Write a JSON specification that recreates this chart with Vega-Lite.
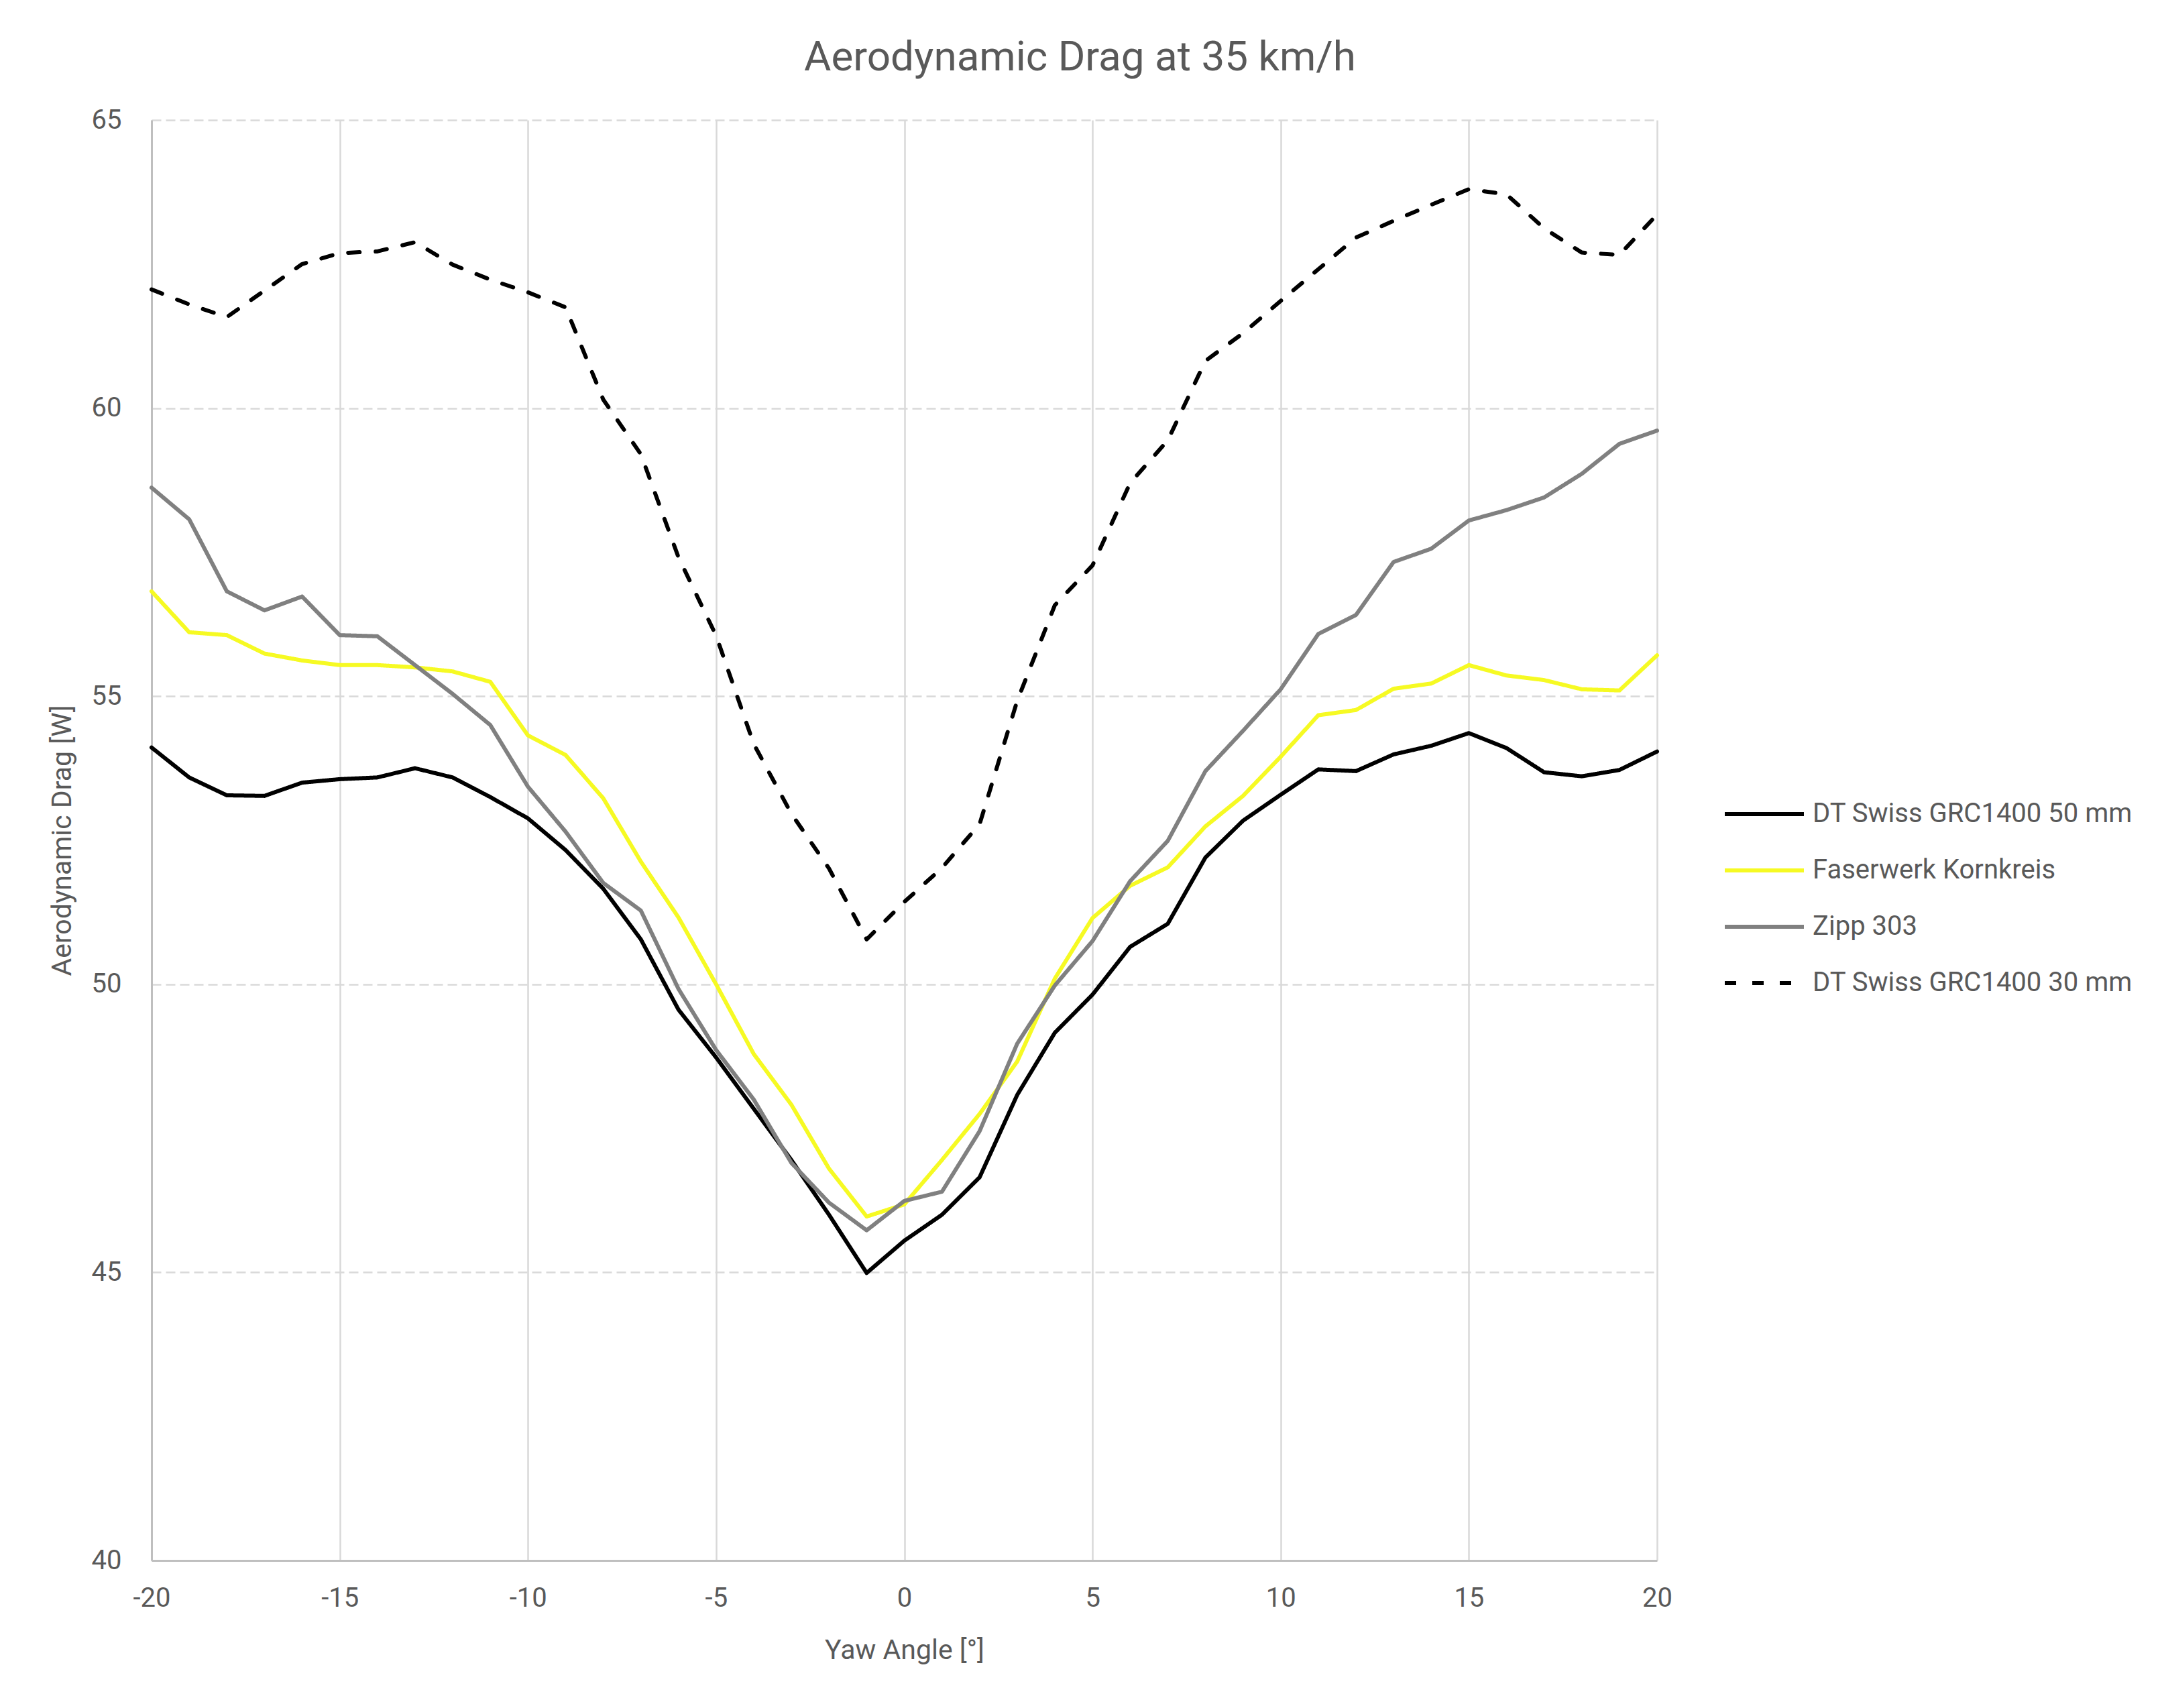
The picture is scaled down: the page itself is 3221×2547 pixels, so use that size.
{
  "$schema": "https://vega.github.io/schema/vega-lite/v6.json",
  "width": 2245,
  "height": 2148,
  "autosize": {"type": "none"},
  "padding": {"left": 226, "top": 179, "right": 750, "bottom": 220},
  "background": "white",
  "title": {
    "text": "Aerodynamic Drag at 35 km/h",
    "font": "Roboto",
    "fontSize": 62,
    "fontWeight": "normal",
    "color": "#595959",
    "anchor": "middle",
    "dx": 262,
    "dy": 84,
    "baseline": "alphabetic",
    "offset": 76
  },
  "data": {
    "values": [
      {"yaw": -20, "wheel": "DT Swiss GRC1400 50 mm", "drag": 54.11},
      {"yaw": -19, "wheel": "DT Swiss GRC1400 50 mm", "drag": 53.59},
      {"yaw": -18, "wheel": "DT Swiss GRC1400 50 mm", "drag": 53.28},
      {"yaw": -17, "wheel": "DT Swiss GRC1400 50 mm", "drag": 53.27},
      {"yaw": -16, "wheel": "DT Swiss GRC1400 50 mm", "drag": 53.5},
      {"yaw": -15, "wheel": "DT Swiss GRC1400 50 mm", "drag": 53.56},
      {"yaw": -14, "wheel": "DT Swiss GRC1400 50 mm", "drag": 53.59},
      {"yaw": -13, "wheel": "DT Swiss GRC1400 50 mm", "drag": 53.75},
      {"yaw": -12, "wheel": "DT Swiss GRC1400 50 mm", "drag": 53.59},
      {"yaw": -11, "wheel": "DT Swiss GRC1400 50 mm", "drag": 53.25},
      {"yaw": -10, "wheel": "DT Swiss GRC1400 50 mm", "drag": 52.88},
      {"yaw": -9, "wheel": "DT Swiss GRC1400 50 mm", "drag": 52.33},
      {"yaw": -8, "wheel": "DT Swiss GRC1400 50 mm", "drag": 51.66},
      {"yaw": -7, "wheel": "DT Swiss GRC1400 50 mm", "drag": 50.78},
      {"yaw": -6, "wheel": "DT Swiss GRC1400 50 mm", "drag": 49.56},
      {"yaw": -5, "wheel": "DT Swiss GRC1400 50 mm", "drag": 48.73},
      {"yaw": -4, "wheel": "DT Swiss GRC1400 50 mm", "drag": 47.84},
      {"yaw": -3, "wheel": "DT Swiss GRC1400 50 mm", "drag": 46.95},
      {"yaw": -2, "wheel": "DT Swiss GRC1400 50 mm", "drag": 46.0},
      {"yaw": -1, "wheel": "DT Swiss GRC1400 50 mm", "drag": 44.99},
      {"yaw": 0, "wheel": "DT Swiss GRC1400 50 mm", "drag": 45.55},
      {"yaw": 1, "wheel": "DT Swiss GRC1400 50 mm", "drag": 46.0},
      {"yaw": 2, "wheel": "DT Swiss GRC1400 50 mm", "drag": 46.65},
      {"yaw": 3, "wheel": "DT Swiss GRC1400 50 mm", "drag": 48.08},
      {"yaw": 4, "wheel": "DT Swiss GRC1400 50 mm", "drag": 49.16},
      {"yaw": 5, "wheel": "DT Swiss GRC1400 50 mm", "drag": 49.82},
      {"yaw": 6, "wheel": "DT Swiss GRC1400 50 mm", "drag": 50.65},
      {"yaw": 7, "wheel": "DT Swiss GRC1400 50 mm", "drag": 51.05},
      {"yaw": 8, "wheel": "DT Swiss GRC1400 50 mm", "drag": 52.2},
      {"yaw": 9, "wheel": "DT Swiss GRC1400 50 mm", "drag": 52.84},
      {"yaw": 10, "wheel": "DT Swiss GRC1400 50 mm", "drag": 53.29},
      {"yaw": 11, "wheel": "DT Swiss GRC1400 50 mm", "drag": 53.73},
      {"yaw": 12, "wheel": "DT Swiss GRC1400 50 mm", "drag": 53.7},
      {"yaw": 13, "wheel": "DT Swiss GRC1400 50 mm", "drag": 53.99},
      {"yaw": 14, "wheel": "DT Swiss GRC1400 50 mm", "drag": 54.14},
      {"yaw": 15, "wheel": "DT Swiss GRC1400 50 mm", "drag": 54.36},
      {"yaw": 16, "wheel": "DT Swiss GRC1400 50 mm", "drag": 54.1},
      {"yaw": 17, "wheel": "DT Swiss GRC1400 50 mm", "drag": 53.68},
      {"yaw": 18, "wheel": "DT Swiss GRC1400 50 mm", "drag": 53.61},
      {"yaw": 19, "wheel": "DT Swiss GRC1400 50 mm", "drag": 53.72},
      {"yaw": 20, "wheel": "DT Swiss GRC1400 50 mm", "drag": 54.04},

      {"yaw": -20, "wheel": "Faserwerk Kornkreis", "drag": 56.82},
      {"yaw": -19, "wheel": "Faserwerk Kornkreis", "drag": 56.11},
      {"yaw": -18, "wheel": "Faserwerk Kornkreis", "drag": 56.06},
      {"yaw": -17, "wheel": "Faserwerk Kornkreis", "drag": 55.74},
      {"yaw": -16, "wheel": "Faserwerk Kornkreis", "drag": 55.62},
      {"yaw": -15, "wheel": "Faserwerk Kornkreis", "drag": 55.54},
      {"yaw": -14, "wheel": "Faserwerk Kornkreis", "drag": 55.54},
      {"yaw": -13, "wheel": "Faserwerk Kornkreis", "drag": 55.5},
      {"yaw": -12, "wheel": "Faserwerk Kornkreis", "drag": 55.43},
      {"yaw": -11, "wheel": "Faserwerk Kornkreis", "drag": 55.25},
      {"yaw": -10, "wheel": "Faserwerk Kornkreis", "drag": 54.32},
      {"yaw": -9, "wheel": "Faserwerk Kornkreis", "drag": 53.98},
      {"yaw": -8, "wheel": "Faserwerk Kornkreis", "drag": 53.23},
      {"yaw": -7, "wheel": "Faserwerk Kornkreis", "drag": 52.13},
      {"yaw": -6, "wheel": "Faserwerk Kornkreis", "drag": 51.16},
      {"yaw": -5, "wheel": "Faserwerk Kornkreis", "drag": 50.0},
      {"yaw": -4, "wheel": "Faserwerk Kornkreis", "drag": 48.79},
      {"yaw": -3, "wheel": "Faserwerk Kornkreis", "drag": 47.91},
      {"yaw": -2, "wheel": "Faserwerk Kornkreis", "drag": 46.8},
      {"yaw": -1, "wheel": "Faserwerk Kornkreis", "drag": 45.97},
      {"yaw": 0, "wheel": "Faserwerk Kornkreis", "drag": 46.18},
      {"yaw": 1, "wheel": "Faserwerk Kornkreis", "drag": 46.95},
      {"yaw": 2, "wheel": "Faserwerk Kornkreis", "drag": 47.75},
      {"yaw": 3, "wheel": "Faserwerk Kornkreis", "drag": 48.66},
      {"yaw": 4, "wheel": "Faserwerk Kornkreis", "drag": 50.1},
      {"yaw": 5, "wheel": "Faserwerk Kornkreis", "drag": 51.15},
      {"yaw": 6, "wheel": "Faserwerk Kornkreis", "drag": 51.71},
      {"yaw": 7, "wheel": "Faserwerk Kornkreis", "drag": 52.03},
      {"yaw": 8, "wheel": "Faserwerk Kornkreis", "drag": 52.74},
      {"yaw": 9, "wheel": "Faserwerk Kornkreis", "drag": 53.27},
      {"yaw": 10, "wheel": "Faserwerk Kornkreis", "drag": 53.95},
      {"yaw": 11, "wheel": "Faserwerk Kornkreis", "drag": 54.67},
      {"yaw": 12, "wheel": "Faserwerk Kornkreis", "drag": 54.76},
      {"yaw": 13, "wheel": "Faserwerk Kornkreis", "drag": 55.13},
      {"yaw": 14, "wheel": "Faserwerk Kornkreis", "drag": 55.22},
      {"yaw": 15, "wheel": "Faserwerk Kornkreis", "drag": 55.54},
      {"yaw": 16, "wheel": "Faserwerk Kornkreis", "drag": 55.36},
      {"yaw": 17, "wheel": "Faserwerk Kornkreis", "drag": 55.28},
      {"yaw": 18, "wheel": "Faserwerk Kornkreis", "drag": 55.12},
      {"yaw": 19, "wheel": "Faserwerk Kornkreis", "drag": 55.1},
      {"yaw": 20, "wheel": "Faserwerk Kornkreis", "drag": 55.71},

      {"yaw": -20, "wheel": "Zipp 303", "drag": 58.62},
      {"yaw": -19, "wheel": "Zipp 303", "drag": 58.07},
      {"yaw": -18, "wheel": "Zipp 303", "drag": 56.82},
      {"yaw": -17, "wheel": "Zipp 303", "drag": 56.49},
      {"yaw": -16, "wheel": "Zipp 303", "drag": 56.73},
      {"yaw": -15, "wheel": "Zipp 303", "drag": 56.06},
      {"yaw": -14, "wheel": "Zipp 303", "drag": 56.04},
      {"yaw": -13, "wheel": "Zipp 303", "drag": 55.54},
      {"yaw": -12, "wheel": "Zipp 303", "drag": 55.04},
      {"yaw": -11, "wheel": "Zipp 303", "drag": 54.5},
      {"yaw": -10, "wheel": "Zipp 303", "drag": 53.43},
      {"yaw": -9, "wheel": "Zipp 303", "drag": 52.65},
      {"yaw": -8, "wheel": "Zipp 303", "drag": 51.76},
      {"yaw": -7, "wheel": "Zipp 303", "drag": 51.28},
      {"yaw": -6, "wheel": "Zipp 303", "drag": 49.92},
      {"yaw": -5, "wheel": "Zipp 303", "drag": 48.86},
      {"yaw": -4, "wheel": "Zipp 303", "drag": 48.0},
      {"yaw": -3, "wheel": "Zipp 303", "drag": 46.9},
      {"yaw": -2, "wheel": "Zipp 303", "drag": 46.21},
      {"yaw": -1, "wheel": "Zipp 303", "drag": 45.73},
      {"yaw": 0, "wheel": "Zipp 303", "drag": 46.24},
      {"yaw": 1, "wheel": "Zipp 303", "drag": 46.4},
      {"yaw": 2, "wheel": "Zipp 303", "drag": 47.45},
      {"yaw": 3, "wheel": "Zipp 303", "drag": 48.97},
      {"yaw": 4, "wheel": "Zipp 303", "drag": 49.98},
      {"yaw": 5, "wheel": "Zipp 303", "drag": 50.75},
      {"yaw": 6, "wheel": "Zipp 303", "drag": 51.79},
      {"yaw": 7, "wheel": "Zipp 303", "drag": 52.49},
      {"yaw": 8, "wheel": "Zipp 303", "drag": 53.7},
      {"yaw": 9, "wheel": "Zipp 303", "drag": 54.4},
      {"yaw": 10, "wheel": "Zipp 303", "drag": 55.12},
      {"yaw": 11, "wheel": "Zipp 303", "drag": 56.08},
      {"yaw": 12, "wheel": "Zipp 303", "drag": 56.41},
      {"yaw": 13, "wheel": "Zipp 303", "drag": 57.33},
      {"yaw": 14, "wheel": "Zipp 303", "drag": 57.56},
      {"yaw": 15, "wheel": "Zipp 303", "drag": 58.05},
      {"yaw": 16, "wheel": "Zipp 303", "drag": 58.23},
      {"yaw": 17, "wheel": "Zipp 303", "drag": 58.45},
      {"yaw": 18, "wheel": "Zipp 303", "drag": 58.86},
      {"yaw": 19, "wheel": "Zipp 303", "drag": 59.38},
      {"yaw": 20, "wheel": "Zipp 303", "drag": 59.61},

      {"yaw": -20, "wheel": "DT Swiss GRC1400 30 mm", "drag": 62.06},
      {"yaw": -19, "wheel": "DT Swiss GRC1400 30 mm", "drag": 61.8},
      {"yaw": -18, "wheel": "DT Swiss GRC1400 30 mm", "drag": 61.58},
      {"yaw": -17, "wheel": "DT Swiss GRC1400 30 mm", "drag": 62.04},
      {"yaw": -16, "wheel": "DT Swiss GRC1400 30 mm", "drag": 62.5},
      {"yaw": -15, "wheel": "DT Swiss GRC1400 30 mm", "drag": 62.69},
      {"yaw": -14, "wheel": "DT Swiss GRC1400 30 mm", "drag": 62.72},
      {"yaw": -13, "wheel": "DT Swiss GRC1400 30 mm", "drag": 62.88},
      {"yaw": -12, "wheel": "DT Swiss GRC1400 30 mm", "drag": 62.49},
      {"yaw": -11, "wheel": "DT Swiss GRC1400 30 mm", "drag": 62.23},
      {"yaw": -10, "wheel": "DT Swiss GRC1400 30 mm", "drag": 62.01},
      {"yaw": -9, "wheel": "DT Swiss GRC1400 30 mm", "drag": 61.75},
      {"yaw": -8, "wheel": "DT Swiss GRC1400 30 mm", "drag": 60.15},
      {"yaw": -7, "wheel": "DT Swiss GRC1400 30 mm", "drag": 59.2},
      {"yaw": -6, "wheel": "DT Swiss GRC1400 30 mm", "drag": 57.41},
      {"yaw": -5, "wheel": "DT Swiss GRC1400 30 mm", "drag": 56.05},
      {"yaw": -4, "wheel": "DT Swiss GRC1400 30 mm", "drag": 54.17},
      {"yaw": -3, "wheel": "DT Swiss GRC1400 30 mm", "drag": 52.96},
      {"yaw": -2, "wheel": "DT Swiss GRC1400 30 mm", "drag": 52.01},
      {"yaw": -1, "wheel": "DT Swiss GRC1400 30 mm", "drag": 50.78},
      {"yaw": 0, "wheel": "DT Swiss GRC1400 30 mm", "drag": 51.43},
      {"yaw": 1, "wheel": "DT Swiss GRC1400 30 mm", "drag": 52.02},
      {"yaw": 2, "wheel": "DT Swiss GRC1400 30 mm", "drag": 52.78},
      {"yaw": 3, "wheel": "DT Swiss GRC1400 30 mm", "drag": 54.92},
      {"yaw": 4, "wheel": "DT Swiss GRC1400 30 mm", "drag": 56.58},
      {"yaw": 5, "wheel": "DT Swiss GRC1400 30 mm", "drag": 57.27},
      {"yaw": 6, "wheel": "DT Swiss GRC1400 30 mm", "drag": 58.7},
      {"yaw": 7, "wheel": "DT Swiss GRC1400 30 mm", "drag": 59.44},
      {"yaw": 8, "wheel": "DT Swiss GRC1400 30 mm", "drag": 60.82},
      {"yaw": 9, "wheel": "DT Swiss GRC1400 30 mm", "drag": 61.3},
      {"yaw": 10, "wheel": "DT Swiss GRC1400 30 mm", "drag": 61.86},
      {"yaw": 11, "wheel": "DT Swiss GRC1400 30 mm", "drag": 62.41},
      {"yaw": 12, "wheel": "DT Swiss GRC1400 30 mm", "drag": 62.96},
      {"yaw": 13, "wheel": "DT Swiss GRC1400 30 mm", "drag": 63.25},
      {"yaw": 14, "wheel": "DT Swiss GRC1400 30 mm", "drag": 63.53},
      {"yaw": 15, "wheel": "DT Swiss GRC1400 30 mm", "drag": 63.8},
      {"yaw": 16, "wheel": "DT Swiss GRC1400 30 mm", "drag": 63.71},
      {"yaw": 17, "wheel": "DT Swiss GRC1400 30 mm", "drag": 63.12},
      {"yaw": 18, "wheel": "DT Swiss GRC1400 30 mm", "drag": 62.7},
      {"yaw": 19, "wheel": "DT Swiss GRC1400 30 mm", "drag": 62.66},
      {"yaw": 20, "wheel": "DT Swiss GRC1400 30 mm", "drag": 63.36}
    ]
  },
  "mark": {"type": "line", "strokeWidth": 6, "strokeCap": "round", "strokeJoin": "round"},
  "encoding": {
    "x": {
      "field": "yaw",
      "type": "quantitative",
      "title": "Yaw Angle [°]",
      "scale": {"domain": [-20, 20], "nice": false},
      "axis": {
        "values": [-20, -15, -10, -5, 0, 5, 10, 15, 20],
        "labelExpr": "datum.value + ''",
        "labelFlush": false,
        "labelOverlap": false,
        "grid": true,
        "gridColor": "#d9d9d9",
        "gridWidth": 2.5,
        "ticks": false,
        "domainColor": "#bfbfbf",
        "domainWidth": 3,
        "labelPadding": 36,
        "titlePadding": 38
      }
    },
    "y": {
      "field": "drag",
      "type": "quantitative",
      "title": "Aerodynamic Drag [W]",
      "scale": {"domain": [40, 65], "nice": false, "zero": false},
      "axis": {
        "values": [40, 45, 50, 55, 60, 65],
        "grid": true,
        "gridColor": "#d9d9d9",
        "gridWidth": 2.5,
        "gridDash": [14, 7],
        "ticks": false,
        "domainColor": "#bfbfbf",
        "domainWidth": 3,
        "labelPadding": 45,
        "titlePadding": 22
      }
    },
    "color": {
      "field": "wheel",
      "type": "nominal",
      "title": null,
      "scale": {
        "domain": ["DT Swiss GRC1400 50 mm", "Faserwerk Kornkreis", "Zipp 303", "DT Swiss GRC1400 30 mm"],
        "range": ["#000000", "#f6fa23", "#808080", "#000000"]
      }
    },
    "strokeDash": {
      "field": "wheel",
      "type": "nominal",
      "title": null,
      "scale": {
        "domain": ["DT Swiss GRC1400 50 mm", "Faserwerk Kornkreis", "Zipp 303", "DT Swiss GRC1400 30 mm"],
        "range": [[1, 0], [1, 0], [1, 0], [17, 24]]
      }
    }
  },
  "config": {
    "view": {"stroke": null},
    "axis": {
      "labelFont": "Roboto",
      "titleFont": "Roboto",
      "labelFontSize": 40,
      "titleFontSize": 41,
      "titleFontWeight": "normal",
      "labelColor": "#595959",
      "titleColor": "#595959"
    },
    "legend": {
      "orient": "none",
      "legendX": 2343,
      "legendY": 993,
      "padding": 0,
      "labelFont": "Roboto",
      "labelFontSize": 40,
      "labelColor": "#595959",
      "labelOffset": 10,
      "symbolType": "stroke",
      "symbolSize": 13924,
      "symbolStrokeWidth": 6,
      "clipHeight": 84,
      "rowPadding": 0,
      "labelLimit": 800
    }
  }
}
